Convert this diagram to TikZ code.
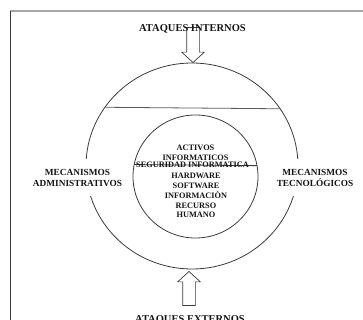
\documentclass[tikz,border=0pt]{standalone}
\usepackage{fontspec}
\setmainfont{Liberation Serif}
\usepackage{xcolor}
\definecolor{ink}{HTML}{141414}
\definecolor{rim}{HTML}{3A3A3A}
\definecolor{chordc}{HTML}{5A5A5A}
\definecolor{edgegray}{HTML}{A6A6A6}
\usepackage{tikz}
\usetikzlibrary{positioning,shapes.geometric,shapes.arrows}

\begin{document}
\begin{tikzpicture}[x=1pt,y=-1pt,every node/.style={font=\bfseries,text=ink}]
\useasboundingbox (0,0) rectangle (363,320);
\tikzstyle{ring}=[ellipse,draw=rim,line width=0.8pt,inner sep=0pt,outer sep=0pt]
\tikzstyle{hollow}=[single arrow,draw=rim,fill=white,line width=0.7pt,inner sep=6pt,single arrow head extend=5pt,single arrow tip angle=95,anchor=tip]
\tikzstyle{side}=[fill=white,align=center,inner xsep=3pt,inner ysep=10pt,font=\fontsize{9.3}{11}\selectfont\bfseries]
\tikzstyle{core}=[align=center,inner sep=0pt,font=\fontsize{8.3}{9.8}\selectfont\bfseries]
\tikzstyle{attack}=[anchor=base,font=\fontsize{10.5}{12}\selectfont\bfseries]
% frame
\draw[edgegray,line width=1.4pt] (10,11) -- (363,11);
\draw[rim,line width=0.9pt] (10,11) -- (10,320);
% rings
\node[ring,minimum width=212pt,minimum height=206pt] (outer) at (192,166) {};
\node[ring,minimum width=125pt,minimum height=123pt] (inner) at (195.5,176.5) {};
\draw[chordc,line width=0.8pt] (outer.146.8) -- (outer.33.2);
\draw[rim,line width=0.8pt] (inner.169.4) -- (inner.10.6);
% attacks
\node[hollow,rotate=-90,minimum height=35pt] (downarrow) at (193,63) {};
\node[attack] (internos) at (192.5,32) {ATAQUES INTERNOS};
\node[hollow,rotate=90,minimum height=34pt] (uparrow) at (189,271) {};
\node[attack] (externos) at (190,322) {ATAQUES EXTERNOS};
% mechanisms
\node[side] (admin) at (77.5,177.5) {MECANISMOS\\ADMINISTRATIVOS};
\node[side] (tecno) at (315,177.5) {MECANISMOS\\TECNOLÓGICOS};
% assets
\node[core] (activos) at (195.5,153) {ACTIVOS\\INFORMATICOS};
\node[core] (seguridad) at (192.5,164.5) {SEGURIDAD INFORMATICA};
\node[core] (lista) at (196,195.5) {HARDWARE\\SOFTWARE\\INFORMACIÒN\\RECURSO\\HUMANO};
\end{tikzpicture}
\end{document}
